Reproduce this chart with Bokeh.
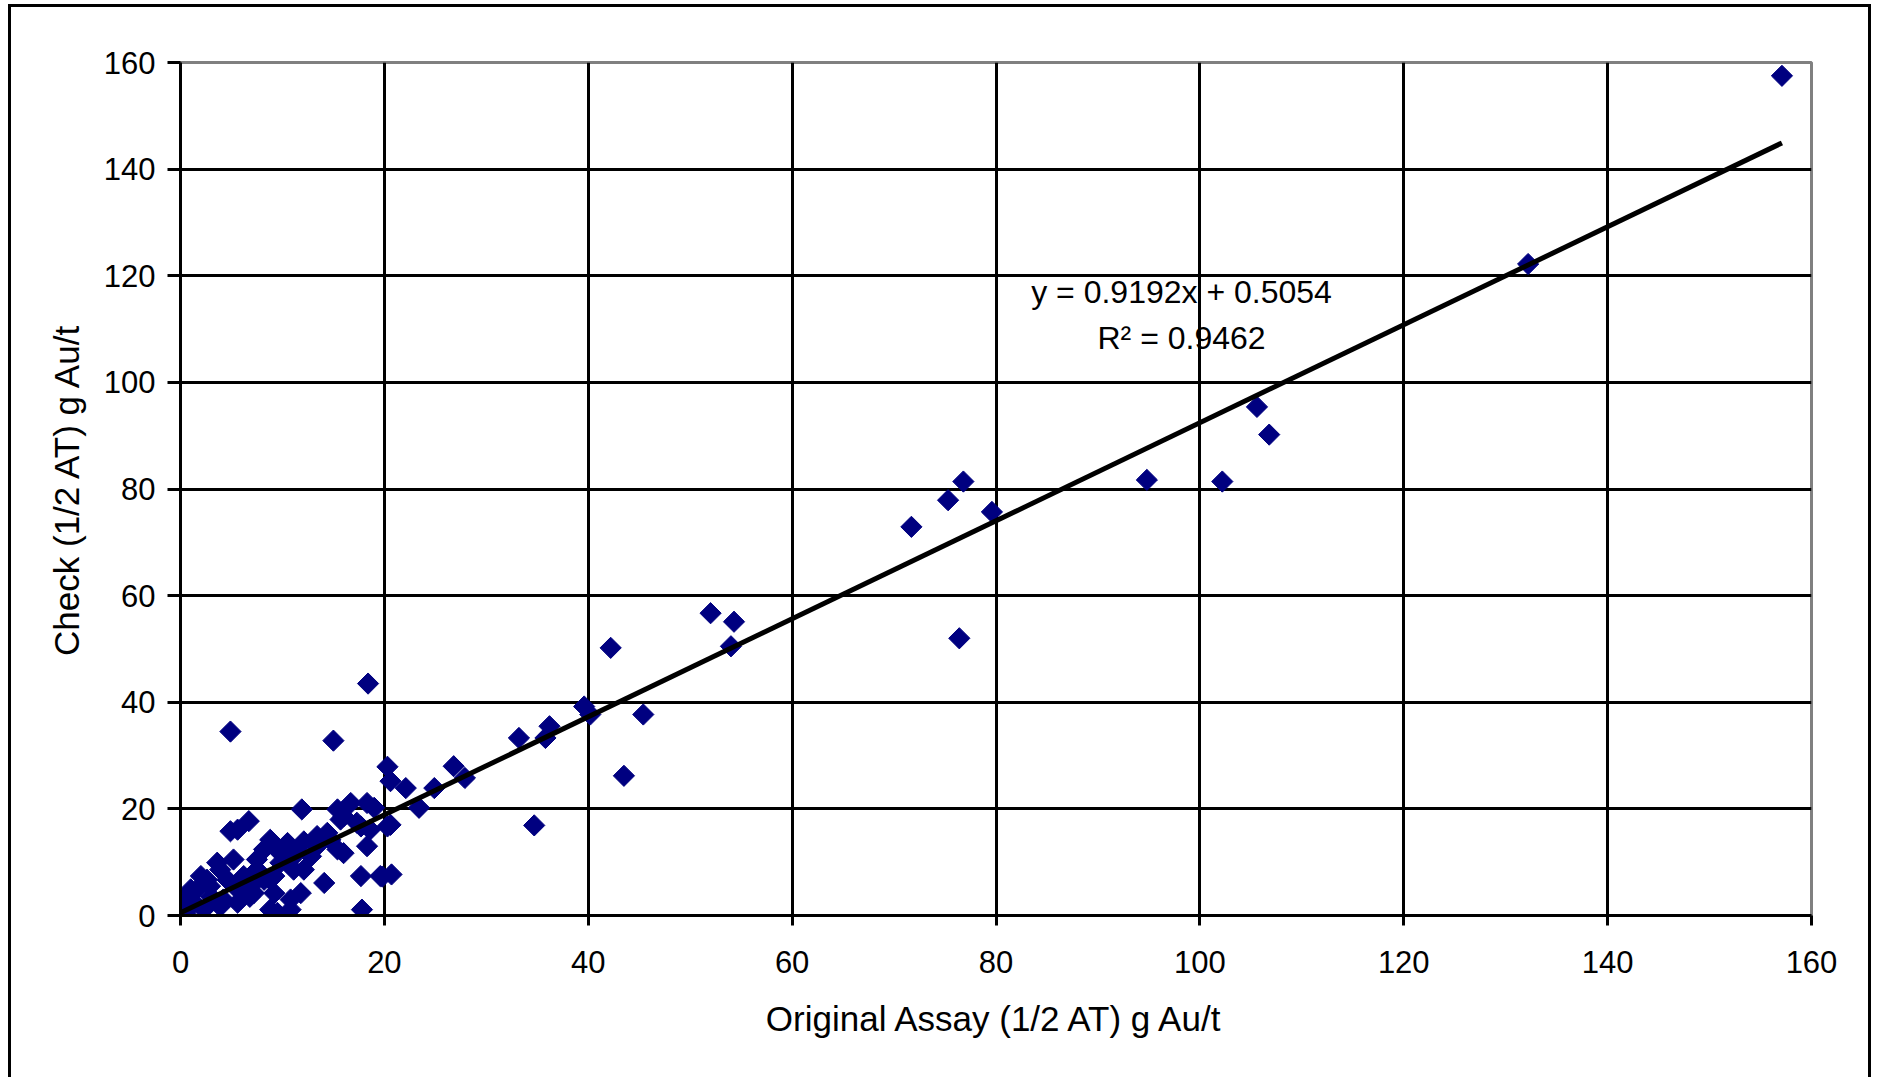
import math
from bokeh.plotting import figure
from bokeh.models import Range1d, FixedTicker, Label
from bokeh.embed import file_html
from bokeh.resources import INLINE

# ---- data ----
original = [157.1, 132.2, 105.6, 106.8, 102.2, 94.8, 76.8, 75.3, 79.6, 71.7,
            76.4, 52.0, 54.3, 54.0, 42.2, 39.6, 40.2, 45.4, 43.5, 36.2,
            35.8, 33.2, 34.7, 26.8, 27.9, 24.9, 22.1, 23.4, 20.3, 20.6,
            18.4, 4.9, 15.0, 20.7, 19.8, 17.7, 17.8, 14.1, 11.9, 19.6,
            15.4, 16.7, 18.3, 19.0, 16.0, 20.3, 17.3, 18.6, 18.3, 15.4,
            16.0, 13.4, 14.4, 12.1, 10.5, 8.8, 9.8, 8.2, 7.5, 5.2,
            3.6, 2.0, 2.9, 4.6, 6.2, 6.5, 8.8, 11.1, 12.1, 11.8,
            10.8, 9.2, 8.8, 10.8, 5.6, 3.9, 2.3, 1.0, 0.0, 0.1,
            0.7, 1.6, 7.2, 5.6, 8.2, 9.8, 10.8, 12.8, 13.4, 14.7,
            7.5, 3.9, 2.6, 1.0, 0.3, 5.6, 6.7, 4.9, 15.7, 17.7,
            9.5, 0.5, 1.3, 3.0, 4.2, 6.8, 9.5, 11.4, 9.2, 5.9,
            6.9, 20.6]
check = [157.5, 122.2, 95.4, 90.2, 81.4, 81.7, 81.4, 77.9, 75.7, 72.9,
         52.0, 56.7, 55.1, 50.5, 50.2, 39.2, 37.7, 37.7, 26.2, 35.5,
         33.3, 33.3, 16.9, 28.0, 25.8, 23.9, 23.9, 20.2, 27.9, 25.2,
         43.5, 34.5, 32.8, 7.7, 7.3, 7.4, 1.1, 6.1, 19.9, 7.4,
         19.9, 21.1, 21.1, 20.2, 18.6, 16.7, 17.4, 16.1, 13.0, 12.4,
         11.7, 14.9, 15.5, 13.9, 13.6, 14.2, 11.7, 12.4, 10.5, 10.5,
         9.9, 7.4, 5.5, 6.7, 7.4, 5.5, 6.7, 8.6, 8.6, 4.2,
         3.0, 4.2, 1.1, 1.1, 2.4, 1.7, 1.1, 1.7, 0.5, 1.5,
         3.6, 4.9, 4.2, 4.9, 6.7, 9.9, 10.5, 11.1, 13.0, 14.2,
         8.6, 8.6, 6.7, 4.9, 3.0, 16.1, 17.7, 15.8, 18.0, 16.7,
         0.5, 0.3, 2.5, 3.5, 3.0, 3.5, 12.4, 11.7, 7.4, 6.7,
         5.5, 17.0]
x_ticks = [0, 20, 40, 60, 80, 100, 120, 140, 160]
y_ticks = [0, 20, 40, 60, 80, 100, 120, 140, 160]
slope = 0.9192
intercept = 0.5054
r_squared = 0.9462
x_title = "Original Assay (1/2 AT) g Au/t"
y_title = "Check (1/2 AT) g Au/t"

FONT = "Liberation Sans"
FS = "31px"
FS_TITLE = "35px"
FS_EQ = "32px"

p = figure(width=1863, height=1073, output_backend="svg", toolbar_location=None,
           x_range=Range1d(0, 160), y_range=Range1d(0, 160),
           min_border_left=169, min_border_right=63,
           min_border_top=55, min_border_bottom=165)
p.styles = {"margin-left": "8px", "margin-top": "4px",
            "border-left": "3px solid black", "border-top": "3px solid black",
            "border-right": "3px solid black"}
p.background_fill_color = "white"
p.border_fill_color = "white"
p.outline_line_color = "#808080"
p.outline_line_width = 3

for ax, ticks in ((p.xaxis, x_ticks), (p.yaxis, y_ticks)):
    ax.ticker = FixedTicker(ticks=ticks)
    ax.axis_line_color = "black"
    ax.axis_line_width = 3
    ax.major_tick_line_color = "black"
    ax.major_tick_line_width = 3
    ax.major_tick_in = 0
    ax.minor_tick_line_color = None
    ax.major_label_text_font = FONT
    ax.major_label_text_font_size = FS
    ax.major_label_text_color = "black"
    ax.axis_label_text_font = FONT
    ax.axis_label_text_font_size = FS_TITLE
    ax.axis_label_text_font_style = "normal"
    ax.axis_label_text_color = "black"

p.xaxis.major_tick_out = 10
p.yaxis.major_tick_out = 13
p.xaxis.major_label_standoff = 25
p.yaxis.major_label_standoff = 12
p.xaxis.axis_label = x_title
p.yaxis.axis_label = y_title
p.xaxis.axis_label_standoff = 23
p.yaxis.axis_label_standoff = 15

for g, ticks in ((p.xgrid, x_ticks), (p.ygrid, y_ticks)):
    g.ticker = FixedTicker(ticks=ticks[1:-1])
    g.grid_line_color = "black"
    g.grid_line_width = 3

p.scatter(original, check, marker="square", angle=math.pi / 4, size=15,
          fill_color="#000080", line_color="#000080", line_width=1)

fit_x = [min(original), max(original)]
fit_y = [slope * v + intercept for v in fit_x]
p.line(fit_x, fit_y, line_color="black", line_width=5)

p.add_layout(Label(x=98.2, y=116.9, text=f"y = {slope}x + {intercept}",
                   text_align="center", text_baseline="middle",
                   text_font=FONT, text_font_size=FS_EQ, text_color="black"))
p.add_layout(Label(x=98.2, y=108.3, text=f"R\u00b2 = {r_squared}",
                   text_align="center", text_baseline="middle",
                   text_font=FONT, text_font_size=FS_EQ, text_color="black"))

open("out.html", "w").write(file_html(p, INLINE))
